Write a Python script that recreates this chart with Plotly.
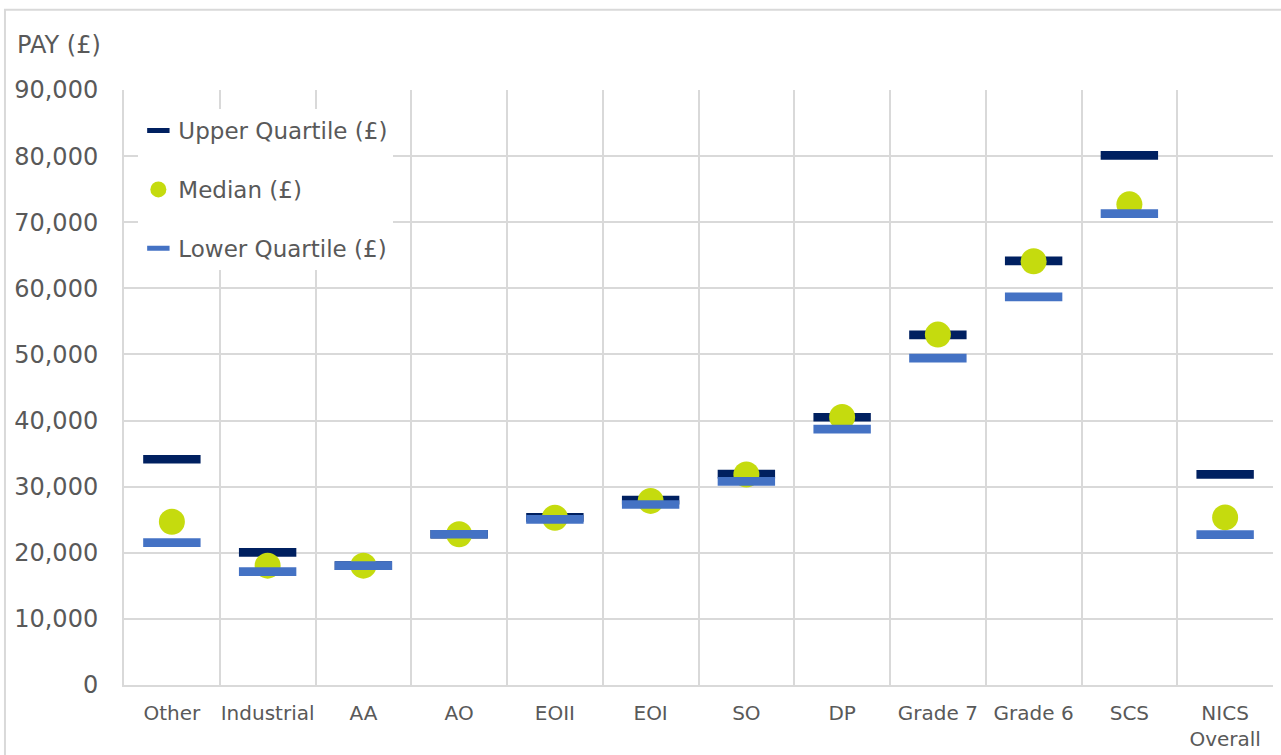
import plotly.graph_objects as go

# Pay distribution by grade
grades = ["Other", "Industrial", "AA", "AO", "EOII", "EOI", "SO", "DP",
          "Grade 7", "Grade 6", "SCS", "NICS<br>Overall"]
upper_quartile = [34150, 20050, 18050, 22800, 25350, 27950, 31900, 40500,
                  52950, 64150, 80100, 31850]
median_pay = [24700, 18050, 18050, 22800, 25300, 27850, 31850, 40550,
              53000, 64100, 72700, 25350]
lower_quartile = [21550, 17150, 18050, 22800, 25050, 27300, 30800, 38700,
                  49450, 58700, 71300, 22750]
y_ticks = [0, 10000, 20000, 30000, 40000, 50000, 60000, 70000, 80000, 90000]

FONT = "DejaVu Sans"
GREY_TEXT = "#595959"
GRID = "#d9d9d9"

fig = go.Figure()

fig.add_trace(go.Scatter(
    x=grades, y=upper_quartile, mode="markers", name="Upper Quartile (£)",
    legendgroup="u",
    marker=dict(symbol="line-ew", size=41, color="#002060",
                line=dict(width=8.7, color="#002060")),
))
fig.add_trace(go.Scatter(
    x=grades, y=median_pay, mode="markers", name="Median (£)",
    legendgroup="m",
    marker=dict(symbol="circle", size=26, color="#c5db0e",
                line=dict(width=0)),
))
fig.add_trace(go.Scatter(
    x=grades, y=lower_quartile, mode="markers", name="Lower Quartile (£)",
    legendgroup="l",
    marker=dict(symbol="line-ew", size=41, color="#4472c4",
                line=dict(width=8.7, color="#4472c4")),
))

fig.update_layout(
    width=1281, height=755,
    margin=dict(l=124, r=8, t=90, b=70, autoexpand=False),
    paper_bgcolor="white", plot_bgcolor="white",
    font=dict(family=FONT, color=GREY_TEXT),
    showlegend=True,
    legend=dict(
        x=0.0125, y=0.968, xanchor="left", yanchor="top",
        bgcolor="white", borderwidth=0,
        font=dict(size=23, color=GREY_TEXT, family=FONT),
        traceorder="grouped", tracegroupgap=26,
        entrywidth=252, entrywidthmode="pixels",
    ),
    xaxis=dict(
        type="category", tickson="boundaries",
        showgrid=True, gridcolor=GRID, gridwidth=2,
        showline=True, linecolor=GRID, linewidth=2,
        ticks="", tickangle=0, tickfont=dict(size=20, color=GREY_TEXT),
        ticklabelstandoff=9, automargin=False,
        range=[-0.5, 11.5],
    ),
    yaxis=dict(
        range=[0, 90000], tickvals=y_ticks, tickformat=",",
        showgrid=True, gridcolor=GRID, gridwidth=2,
        showline=True, linecolor=GRID, linewidth=2,
        zeroline=False, automargin=False,
        ticks="", tickfont=dict(size=24, color=GREY_TEXT),
        ticklabelstandoff=19,
    ),
    annotations=[dict(
        text="PAY (£)", xref="paper", yref="paper",
        x=-0.095, y=1.048, xanchor="left", yanchor="bottom",
        showarrow=False, font=dict(size=24, color=GREY_TEXT, family=FONT),
    )],
    shapes=[dict(
        type="rect", xref="paper", yref="paper",
        x0=-0.1036, x1=1.02, y0=-0.3, y1=1.1347,
        line=dict(color=GRID, width=2), fillcolor="rgba(0,0,0,0)",
        layer="below",
    )],
)

fig.write_html("out.html")
